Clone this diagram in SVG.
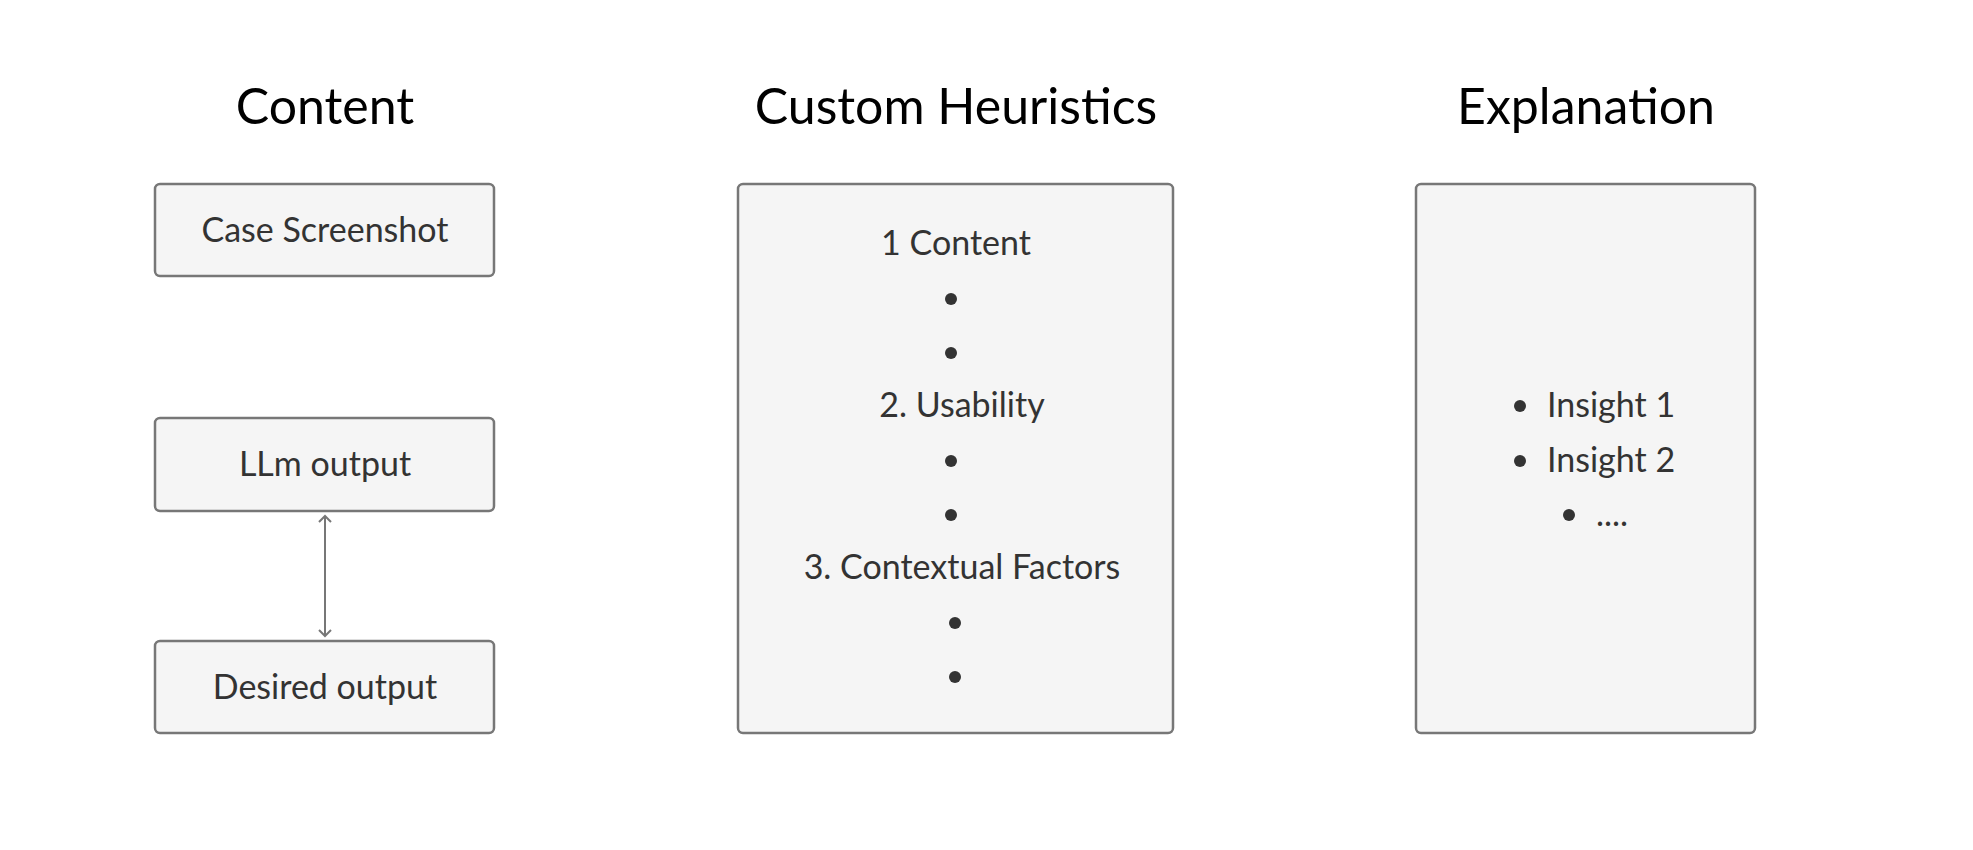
<svg xmlns="http://www.w3.org/2000/svg" width="1973" height="850" viewBox="0 0 1973 850">
<style>
.t{font-family:Lato,"Open Sans",sans-serif;font-size:50px;fill:#000;text-anchor:middle}
.l{font-family:Lato,"Open Sans",sans-serif;font-size:34px;fill:#333;text-anchor:middle}
.ls{font-family:Lato,"Open Sans",sans-serif;font-size:34px;fill:#333}
.b{fill:#f5f5f5;stroke:#777;stroke-width:2.5}
.d{fill:#333}
</style>
<defs><marker id="a" markerWidth="14" markerHeight="14" refX="7" refY="7" orient="auto-start-reverse" markerUnits="userSpaceOnUse"><path d="M1,1 L7,7 L1,13" fill="none" stroke="#777" stroke-width="2"/></marker></defs>
<rect width="1973" height="850" fill="#fff"/>
<text class="t" x="325" y="124">Content</text>
<text class="t" x="956" y="124">Custom Heuristics</text>
<text class="t" x="1586" y="124">Explanation</text>
<g id="case"><rect class="b" x="155" y="184" width="339" height="92" rx="5"/><text class="l" x="325" y="242">Case Screenshot</text></g>
<g id="llm"><rect class="b" x="155" y="418" width="339" height="93" rx="5"/><text class="l" x="325" y="476">LLm output</text></g>
<g id="desired"><rect class="b" x="155" y="641" width="339" height="92" rx="5"/><text class="l" x="325" y="699">Desired output</text></g>
<g id="heuristics"><rect class="b" x="738" y="184" width="435" height="549" rx="5"/>
<text class="l" x="956" y="255">1 Content</text>
<circle class="d" cx="951" cy="299" r="6"/><circle class="d" cx="951" cy="353" r="6"/>
<text class="l" x="962" y="417">2.  Usability</text>
<circle class="d" cx="951" cy="461" r="6"/><circle class="d" cx="951" cy="515" r="6"/>
<text class="l" x="962" y="579">3.  Contextual Factors</text>
<circle class="d" cx="955" cy="623" r="6"/><circle class="d" cx="955" cy="677" r="6"/>
</g>
<g id="explanation"><rect class="b" x="1416" y="184" width="339" height="549" rx="5"/>
<circle class="d" cx="1520" cy="406" r="6"/><text class="ls" x="1547" y="417">Insight 1</text>
<circle class="d" cx="1520" cy="461" r="6"/><text class="ls" x="1547" y="472">Insight 2</text>
<circle class="d" cx="1569" cy="515" r="6"/><text class="ls" x="1596" y="526">....</text>
</g>
<g id="connectors"><line x1="325" y1="516" x2="325" y2="636" stroke="#777" stroke-width="2" marker-start="url(#a)" marker-end="url(#a)"/></g>
</svg>
